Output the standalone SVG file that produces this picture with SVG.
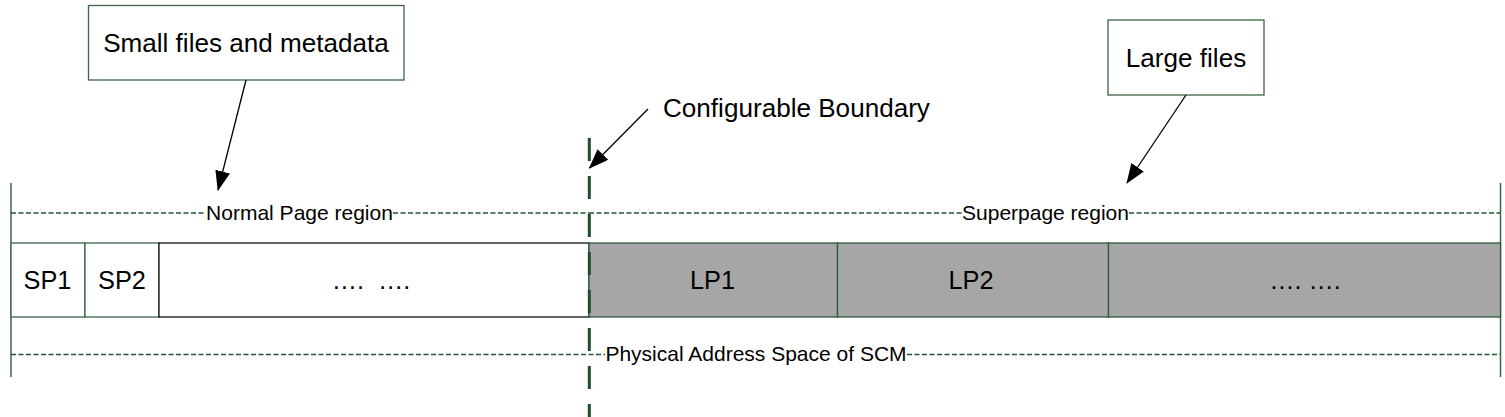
<svg xmlns="http://www.w3.org/2000/svg" width="1505" height="417" viewBox="0 0 1505 417">
<style>
text { font-family: "Liberation Sans", Arial, sans-serif; fill: #000; white-space: pre; }
.big { font-size: 26.1px; }
.cell { font-size: 25.3px; text-anchor: middle; }
.lbl { font-size: 21px; text-anchor: middle; }
.box { fill: #fff; stroke: #3b6649; stroke-width: 1.3; }
.gcell { fill: #a6a6a6; stroke: #2f5a3c; stroke-width: 1.3; }
.wcell { fill: #fff; stroke: #3b6649; stroke-width: 1.3; }
.dash { stroke: #1f5532; stroke-width: 1.3; stroke-dasharray: 5 2.5; fill: none; }
.vline { stroke: #3b6649; stroke-width: 1.5; }
.arrow { stroke: #000; stroke-width: 1.3; fill: none; marker-end: url(#ah); }
</style>
<defs>
<marker id="ah" markerUnits="userSpaceOnUse" markerWidth="20" markerHeight="15" viewBox="0 0 20 15" refX="19" refY="7.5" orient="auto">
<path d="M0,0 L20,7.5 L0,15 z" fill="#000"/>
</marker>
</defs>

<g id="frame">
<line class="vline" x1="11" y1="183" x2="11" y2="377"/>
<line class="vline" x1="1500.5" y1="183" x2="1500.5" y2="377"/>
</g>

<g id="normal-region-label">
<line class="dash" x1="11" y1="213" x2="206" y2="213"/>
<line class="dash" x1="393" y1="213" x2="589" y2="213"/>
<text class="lbl" x="299.5" y="219.5">Normal Page region</text>
</g>

<g id="superpage-region-label">
<line class="dash" x1="589" y1="213" x2="962" y2="213"/>
<line class="dash" x1="1129" y1="213" x2="1500" y2="213"/>
<text class="lbl" x="1045.5" y="219.5">Superpage region</text>
</g>

<g id="physical-label">
<line class="dash" x1="11" y1="354.5" x2="605" y2="354.5"/>
<line class="dash" x1="907" y1="354.5" x2="1500" y2="354.5"/>
<text class="lbl" x="756" y="361">Physical Address Space of SCM</text>
</g>

<g id="sp1">
<rect class="wcell" x="11" y="243" width="74" height="74"/>
<text class="cell" x="47.5" y="289">SP1</text>
</g>
<g id="sp2">
<rect class="wcell" x="85" y="243" width="74" height="74"/>
<text class="cell" x="122" y="289">SP2</text>
</g>
<g id="normal-rest">
<rect x="159" y="243" width="430" height="74" fill="#fff" stroke="#111" stroke-width="1.3"/>
<text class="cell" x="371" y="289">….  ….</text>
</g>
<g id="lp1">
<rect class="gcell" x="589" y="243" width="248.5" height="74"/>
<text class="cell" x="712.5" y="289">LP1</text>
</g>
<g id="lp2">
<rect class="gcell" x="837.5" y="243" width="271" height="74"/>
<text class="cell" x="971" y="289">LP2</text>
</g>
<g id="lp-rest">
<rect class="gcell" x="1108.5" y="243" width="392" height="74"/>
<text class="cell" x="1305" y="289">…. ….</text>
</g>

<g id="boundary">
<line x1="589.3" y1="138" x2="589.3" y2="417" stroke="#1f4d2d" stroke-width="3" stroke-dasharray="23 15"/>
</g>

<g id="small-files">
<rect class="box" x="88.5" y="5.5" width="315.5" height="74.5"/>
<text class="big" x="246" y="51.5" text-anchor="middle">Small files and metadata</text>
</g>

<g id="large-files">
<rect class="box" x="1108" y="20" width="156" height="75"/>
<text class="big" x="1186" y="66.5" text-anchor="middle">Large files</text>
</g>

<g id="configurable-boundary">
<text class="big" x="663" y="116.5">Configurable Boundary</text>
</g>

<g id="connectors">
<line class="arrow" x1="246" y1="80" x2="218" y2="190"/>
<line class="arrow" x1="1186" y1="95" x2="1127" y2="183"/>
<line class="arrow" x1="648" y1="109" x2="589.5" y2="168"/>
</g>
</svg>
